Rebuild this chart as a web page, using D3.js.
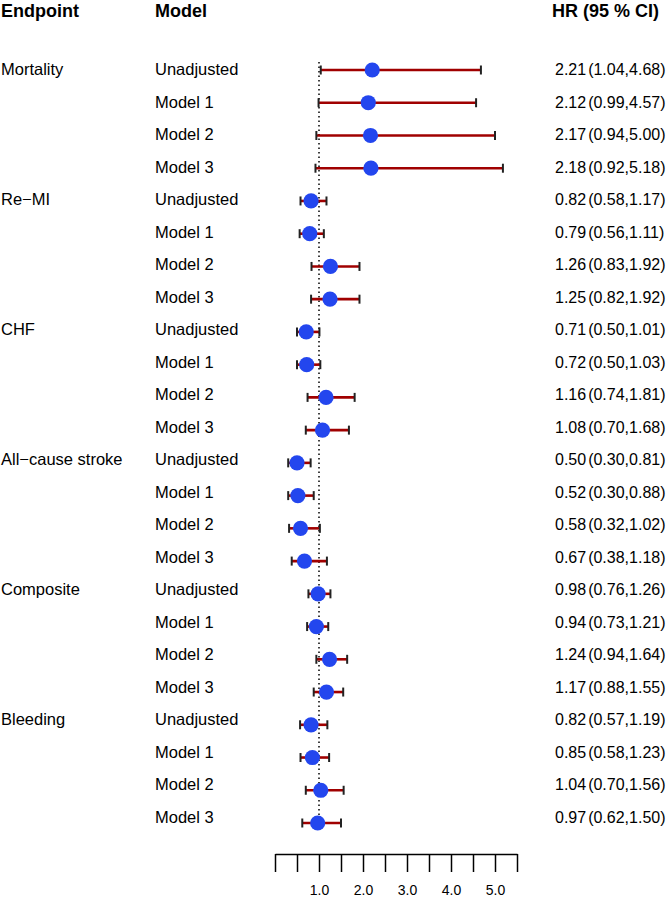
<!DOCTYPE html>
<html>
<head>
<meta charset="utf-8">
<script src="https://cdn.jsdelivr.net/npm/d3@7"></script>
<style>
  html, body { margin: 0; padding: 0; background: #fff; }
  svg { display: block; font-family: "Liberation Sans", Arial, Helvetica, sans-serif; }
</style>
</head>
<body>
<svg id="chart" width="667" height="898"></svg>
<script>
// ---- data ----
const endpoints = ["Mortality", "Re\u2212MI", "CHF", "All\u2212cause stroke", "Composite", "Bleeding"];
const models = ["Unadjusted", "Model 1", "Model 2", "Model 3"];
const hr    = [2.21, 2.12, 2.17, 2.18, 0.82, 0.79, 1.26, 1.25, 0.71, 0.72, 1.16, 1.08,
               0.50, 0.52, 0.58, 0.67, 0.98, 0.94, 1.24, 1.17, 0.82, 0.85, 1.04, 0.97];
const lower = [1.04, 0.99, 0.94, 0.92, 0.58, 0.56, 0.83, 0.82, 0.50, 0.50, 0.74, 0.70,
               0.30, 0.30, 0.32, 0.38, 0.76, 0.73, 0.94, 0.88, 0.57, 0.58, 0.70, 0.62];
const upper = [4.68, 4.57, 5.00, 5.18, 1.17, 1.11, 1.92, 1.92, 1.01, 1.03, 1.81, 1.68,
               0.81, 0.88, 1.02, 1.18, 1.26, 1.21, 1.64, 1.55, 1.19, 1.23, 1.56, 1.50];
const tickValues = [0, 0.5, 1, 1.5, 2, 2.5, 3, 3.5, 4, 4.5, 5, 5.5];
const tickLabels = ["", "", "1.0", "", "2.0", "", "3.0", "", "4.0", "", "5.0", ""];
const headers = ["Endpoint", "Model", "HR (95 % CI)"];
const refValue = 1;

// ---- build rows ----
const rows = [];
endpoints.forEach((ep, i) => {
  models.forEach((m, j) => {
    const k = i * 4 + j;
    rows.push({ key: k, endpoint: j === 0 ? ep : "", model: m, hr: hr[k], lo: lower[k], hi: upper[k] });
  });
});

const svg = d3.select("#chart");

const x = d3.scaleLinear().domain([0, 5.5]).range([275, 517]);
const y = d3.scalePoint().domain(rows.map(d => d.key)).range([70, 823]);      // marks
const yt = d3.scalePoint().domain(rows.map(d => d.key)).range([75, 823]);     // text baselines

// headers
const hx = [1, 155, 552];
svg.selectAll("text.header").data(headers).join("text")
  .attr("class", "header")
  .attr("x", (d, i) => hx[i]).attr("y", 17)
  .attr("font-size", 18).attr("font-weight", "bold").attr("fill", "#000")
  .text(d => d);

// reference dotted line
svg.append("line")
  .attr("x1", x(refValue)).attr("x2", x(refValue))
  .attr("y1", 62).attr("y2", 826)
  .attr("stroke", "#000").attr("stroke-width", 1.5)
  .attr("stroke-dasharray", "1.5,3");

// row labels
svg.selectAll("text.ep").data(rows.filter(d => d.endpoint)).join("text")
  .attr("class", "ep")
  .attr("x", 1).attr("y", d => yt(d.key))
  .attr("font-size", 16.5).attr("fill", "#000")
  .text(d => d.endpoint);

svg.selectAll("text.model").data(rows).join("text")
  .attr("class", "model")
  .attr("x", 155).attr("y", d => yt(d.key))
  .attr("font-size", 16.5).attr("fill", "#000")
  .text(d => d.model);

// CI lines
const g = svg.append("g");
g.selectAll("line.ci").data(rows).join("line")
  .attr("class", "ci")
  .attr("x1", d => x(d.lo)).attr("x2", d => x(d.hi))
  .attr("y1", d => y(d.key)).attr("y2", d => y(d.key))
  .attr("stroke", "#a00000").attr("stroke-width", 2.6);

["lo", "hi"].forEach(side => {
  g.selectAll("line.cap-" + side).data(rows).join("line")
    .attr("class", "cap-" + side)
    .attr("x1", d => x(d[side])).attr("x2", d => x(d[side]))
    .attr("y1", d => y(d.key) - 4.5).attr("y2", d => y(d.key) + 4.5)
    .attr("stroke", "#222").attr("stroke-width", 2);
});

g.selectAll("circle.pt").data(rows).join("circle")
  .attr("class", "pt")
  .attr("cx", d => x(d.hr)).attr("cy", d => y(d.key))
  .attr("r", 7.6)
  .attr("fill", "#2346ee");

// HR text
const hrText = svg.selectAll("text.hr").data(rows).join("text")
  .attr("class", "hr")
  .attr("x", 555).attr("y", d => yt(d.key))
  .attr("font-size", 16).attr("fill", "#000");
hrText.append("tspan").text(d => d.hr.toFixed(2));
hrText.append("tspan").attr("dx", 2).text(d => "(" + d.lo.toFixed(2) + "," + d.hi.toFixed(2) + ")");

// axis
const axis = d3.axisBottom(x).tickValues(tickValues).tickSize(18).tickSizeOuter(0)
  .tickFormat((d, i) => tickLabels[i]);
const ax = svg.append("g").attr("transform", "translate(0,854)").call(axis);
ax.select(".domain").attr("stroke", "#000").attr("stroke-width", 1.5);
ax.selectAll(".tick line").attr("stroke", "#000").attr("stroke-width", 1.5);
ax.selectAll(".tick text").attr("font-size", 14).attr("fill", "#000")
  .attr("font-family", "\"Liberation Sans\", Arial, sans-serif")
  .attr("dy", 0).attr("y", 41);
</script>
</body>
</html>
